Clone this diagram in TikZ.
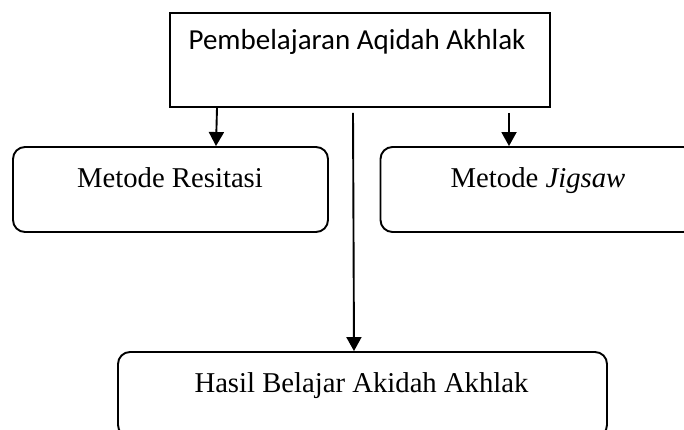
\documentclass[tikz,border=0pt]{standalone}
\usepackage{fontspec}
\setmainfont{Liberation Serif}
\newfontfamily\boxsans{Carlito}
\usetikzlibrary{arrows.meta}
\tikzset{
	plainbox/.style={draw, line width=1.9pt, minimum width=#1},
	roundbox/.style={plainbox=#1, rounded corners=12pt, minimum height=85pt},
	arr/.style={line width=1.9pt, -{Triangle[length=14pt,width=15pt]}},
	serif/.style={font=\fontsize{28.7}{34}\selectfont, inner sep=0pt, anchor=base},
	sans/.style={font=\boxsans\fontsize{29}{35}\selectfont, inner sep=0pt}
}
\begin{document}
\begin{tikzpicture}[x=1pt,y=-1pt]
	\useasboundingbox (0,0) rectangle (684,430);
	\clip (0,0) rectangle (684,430);
	\node [plainbox=380pt, minimum height=94pt] (top) at (360,60) {};
	\node [sans] (toptext) at (357,42) {Pembelajaran Aqidah Akhlak};
	\node [roundbox=315pt] (resitasi) at (170.5,189.5) {};
	\node [serif] (resitasitext) at (170,188) {Metode Resitasi};
	\node [roundbox=315pt] (jigsaw) at (538,189.5) {};
	\node [serif] (jigsawtext) at (538,188) {Metode \textit{Jigsaw}};
	\node [roundbox=489pt] (hasil) at (362.5,394.5) {};
	\node [serif] (hasiltext) at (361.5,392) {Hasil Belajar Akidah Akhlak};
	\draw [arr] ([xshift=-143pt]top.south) -- ([xshift=45.5pt]resitasi.north);
	\draw [arr] ([xshift=149pt,yshift=-5pt]top.south) -- ([xshift=-29pt]jigsaw.north);
	\draw [arr] ([xshift=-7pt,yshift=-5pt]top.south) -- ([xshift=-8.5pt]hasil.north);
\end{tikzpicture}
\end{document}
